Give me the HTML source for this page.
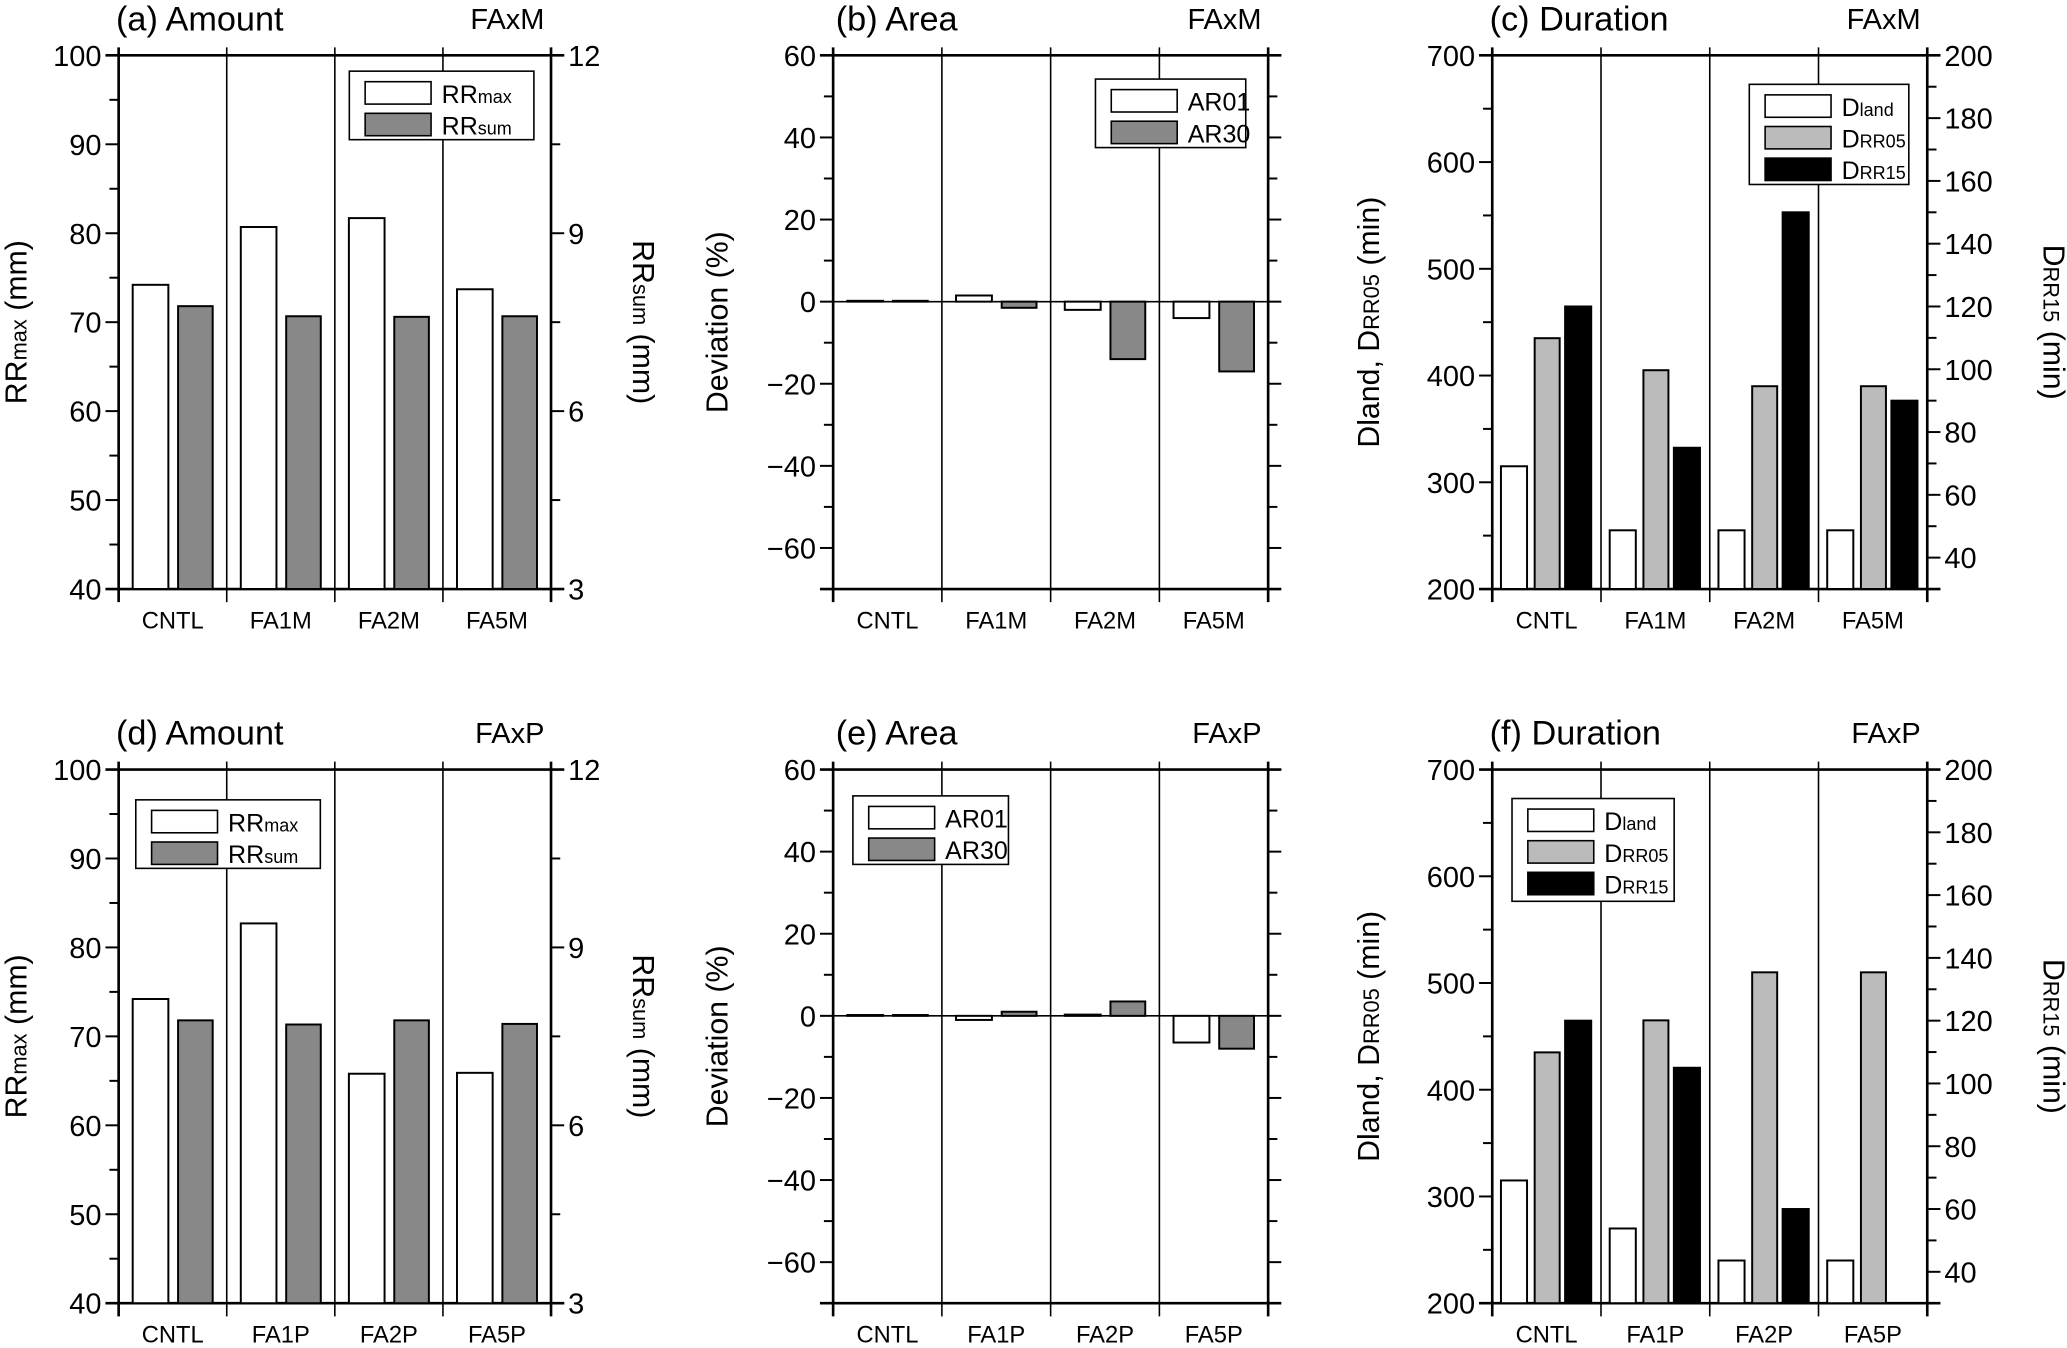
<!DOCTYPE html>
<html><head><meta charset="utf-8"><style>
html,body{margin:0;padding:0;background:#fff;}
svg{display:block;font-family:"Liberation Sans",sans-serif;}
</style></head><body>
<svg id="fig" width="2067" height="1348" viewBox="0 0 1568 1023" preserveAspectRatio="none" xmlns="http://www.w3.org/2000/svg"></svg>
<script>
// ---- data ----
const catsM = ["CNTL","FA1M","FA2M","FA5M"];
const catsP = ["CNTL","FA1P","FA2P","FA5P"];
const rrmaxM = [74.2, 80.7, 81.7, 73.7];
const rrsumM = [7.77, 7.6, 7.59, 7.6];
const ar01M = [0.2, 1.5, -2, -4];
const ar30M = [0.2, -1.5, -14, -17];
const dlandM = [315, 255, 255, 255];
const drr05M = [435, 405, 390, 390];
const drr15M = [120, 75, 150, 90];
const rrmaxP = [74.2, 82.7, 65.8, 65.9];
const rrsumP = [7.77, 7.7, 7.77, 7.71];
const ar01P = [0.2, -1, 0.3, -6.5];
const ar30P = [0.2, 1, 3.5, -8];
const dlandP = [315, 270, 240, 240];
const drr05P = [435, 465, 510, 510];
const drr15P = [120, 105, 60, 30];
const amountLeftTicks = [40,50,60,70,80,90,100];
const amountRightTicks = [3,6,9,12];
const areaTicks = [-60,-40,-20,0,20,40,60];
const durLeftTicks = [200,300,400,500,600,700];
const durRightTicks = [40,60,80,100,120,140,160,180,200];

const NS="http://www.w3.org/2000/svg";
const svg=document.getElementById('fig');
function el(tag,attrs,parent,text){
  const e=document.createElementNS(NS,tag);
  for(const k in attrs) e.setAttribute(k,attrs[k]);
  if(text!==undefined) e.textContent=text;
  (parent||svg).appendChild(e);
  return e;
}
function line(g,x1,y1,x2,y2,w){return el('line',{x1,y1,x2,y2,stroke:'#000','stroke-width':w||1},g);}
function subText(g,x,y,main,sub,size,anchor,transform){
  const t=el('text',{x,y,'font-size':size,'text-anchor':anchor||'start',fill:'#000'},g);
  if(transform) t.setAttribute('transform',transform);
  el('tspan',{},t,main);
  el('tspan',{'font-size':size*0.72},t,sub);
  return t;
}

function panel(cfg){
  const g=el('g',{},svg);
  
  
  const {x0,x1,y0,y1}=cfg;
  const yL=v=>y1-(v-cfg.lmin)/(cfg.lmax-cfg.lmin)*(y1-y0);
  const yR=v=>y1-(v-cfg.rmin)/(cfg.rmax-cfg.rmin)*(y1-y0);
  line(g,x0-10,y0,x1+10,y0,2);
  line(g,x0-10,y1,x1+10,y1,2);
  line(g,x0,y0-6,x0,y1+10,2);
  line(g,x1,y0-6,x1,y1+10,2);
  const cw=(x1-x0)/cfg.cats.length;
  for(let i=1;i<cfg.cats.length;i++){ line(g,x0+i*cw,y0-6,x0+i*cw,y1+10,1.2); }
  for(let v=cfg.lmin;v<=cfg.lmax+1e-6;v+=cfg.lminor){
    const major=cfg.lticks.some(t=>Math.abs(t-v)<1e-6);
    line(g,x0-(major?10:7),yL(v),x0,yL(v),1.5);
  }
  cfg.lticks.forEach(v=>{
    const t=el('text',{x:x0-13,y:yL(v)+8,'font-size':22,'text-anchor':'end'},g,String(v).replace('-','\u2212'));
    
    
  });
  const rstart=cfg.rmin;
  for(let v=rstart;v<=cfg.rmax+1e-6;v+=cfg.rminor){
    const major=cfg.rticks.some(t=>Math.abs(t-v)<1e-6);
    line(g,x1,yR(v),x1+(major?10:7),yR(v),1.5);
  }
  if(cfg.rlabels){
    cfg.rticks.forEach(v=>{
      const t=el('text',{x:x1+13,y:yR(v)+8,'font-size':22},g,String(v));
      
      
    });
  }
  cfg.cats.forEach((c,i)=>{
    const t=el('text',{x:x0+(i+0.5)*cw,y:y1+30,'font-size':18,'text-anchor':'middle'},g,c);
    
    
  });
  if(cfg.zero){ line(g,x0,yL(0),x1,yL(0),1.2); }
  cfg.series.forEach((s,si)=>{
    const sc=s.right?yR:yL;
    const base=cfg.zero?0:(s.right?cfg.rmin:cfg.lmin);
    s.vals.forEach((v,i)=>{
      const xa=x0+(i+s.off[0])*cw, xb=x0+(i+s.off[1])*cw;
      const ya=sc(v), yb=sc(base);
      const r=el('rect',{x:xa,y:Math.min(ya,yb),width:xb-xa,height:Math.max(Math.abs(yb-ya),0.01),fill:s.fill,stroke:'#000','stroke-width':1.5},g);
      
      
    });
  });
  const L=cfg.legend;
  const lg=el('g',{},g);
  
  
  el('rect',{x:L.x,y:L.y,width:L.w,height:L.h,fill:'#fff',stroke:'#000','stroke-width':1.2},lg);
  cfg.series.forEach((s,si)=>{
    const yy=L.y+8+si*L.step;
    el('rect',{x:L.x+12,y:yy,width:50,height:17,fill:s.fill,stroke:'#000','stroke-width':1.2},lg);
    subText(lg,L.x+70,yy+16,s.lm,s.ls,19);
  });
  const tt=el('text',{x:cfg.tx,y:y0-19,'font-size':26},g,cfg.title);
  
  
  const t2=el('text',{x:x1-5,y:y0-20,'font-size':22,'text-anchor':'end'},g,cfg.tag);
  
  
  const cy=(y0+y1)/2;
  const ya=subText(g,0,0,cfg.ylm,cfg.yls,23,'middle','translate('+(cfg.ylx)+','+cy+') rotate(-90)');
  el('tspan',{},ya,cfg.ylt||'');
  
  
  if(cfg.yrm){
    const yr=subText(g,0,0,cfg.yrm,cfg.yrs,23,'middle','translate('+(cfg.yrx)+','+cy+') rotate(90)');
    el('tspan',{},yr,cfg.yrt);
    
    
  }
}

const two=[[0.13,0.46],[0.55,0.87]];
const three=[[0.08,0.32],[0.39,0.62],[0.67,0.91]];
function amount(name,y0,y1,cats,mx,sm,title,tag,legend){
  panel({name,x0:90,x1:418,y0,y1,cats,lmin:40,lmax:100,lminor:5,lticks:amountLeftTicks,
    rmin:3,rmax:12,rminor:1.5,rticks:amountRightTicks,rlabels:true,
    series:[{key:'rrmax',vals:mx,off:two[0],fill:'#fff',lm:'RR',ls:'max'},
            {key:'rrsum',vals:sm,off:two[1],fill:'#888',right:true,lm:'RR',ls:'sum'}],
    legend,tx:88,title,tag,ylm:'RR',yls:'max',ylt:' (mm)',ylx:20,yrm:'RR',yrs:'sum',yrt:' (mm)',yrx:480});
}
function area(name,y0,y1,cats,a1,a3,title,tag,legend){
  panel({name,x0:632,x1:962,y0,y1,cats,lmin:-70,lmax:60,lminor:10,lticks:areaTicks,
    rmin:-70,rmax:60,rminor:10,rticks:areaTicks,rlabels:false,zero:true,
    series:[{key:'ar01',vals:a1,off:two[0],fill:'#fff',lm:'AR01',ls:''},
            {key:'ar30',vals:a3,off:two[1],fill:'#888',lm:'AR30',ls:''}],
    legend,tx:634,title,tag,ylm:'Deviation (%)',yls:'',ylx:552});
}
function dur(name,y0,y1,cats,dl,d5,d15,title,tag,legend){
  panel({name,x0:1132,x1:1462,y0,y1,cats,lmin:200,lmax:700,lminor:50,lticks:durLeftTicks,
    rmin:30,rmax:200,rminor:10,rticks:durRightTicks,rlabels:true,
    series:[{key:'dland',vals:dl,off:three[0],fill:'#fff',lm:'D',ls:'land'},
            {key:'drr05',vals:d5,off:three[1],fill:'#bbb',lm:'D',ls:'RR05'},
            {key:'drr15',vals:d15,off:three[2],fill:'#000',right:true,lm:'D',ls:'RR15'}],
    legend,tx:1130,title,tag,ylm:'Dland, D',yls:'RR05',ylt:' (min)',ylx:1046,
    yrm:'D',yrs:'RR15',yrt:' (min)',yrx:1550});
}
amount('panel-a-amount',42,447,catsM,rrmaxM,rrsumM,'(a) Amount','FAxM',{x:265,y:54,w:140,h:52,step:24});
area('panel-b-area',42,447,catsM,ar01M,ar30M,'(b) Area','FAxM',{x:831,y:60,w:114,h:52,step:24});
dur('panel-c-duration',42,447,catsM,dlandM,drr05M,drr15M,'(c) Duration','FAxM',{x:1327,y:64,w:121,h:76,step:24});
amount('panel-d-amount',584,989,catsP,rrmaxP,rrsumP,'(d) Amount','FAxP',{x:103,y:607,w:140,h:52,step:24});
area('panel-e-area',584,989,catsP,ar01P,ar30P,'(e) Area','FAxP',{x:647,y:604,w:118,h:52,step:24});
dur('panel-f-duration',584,989,catsP,dlandP,drr05P,drr15P,'(f) Duration','FAxP',{x:1147,y:606,w:123,h:78,step:24});
</script>
</body></html>
